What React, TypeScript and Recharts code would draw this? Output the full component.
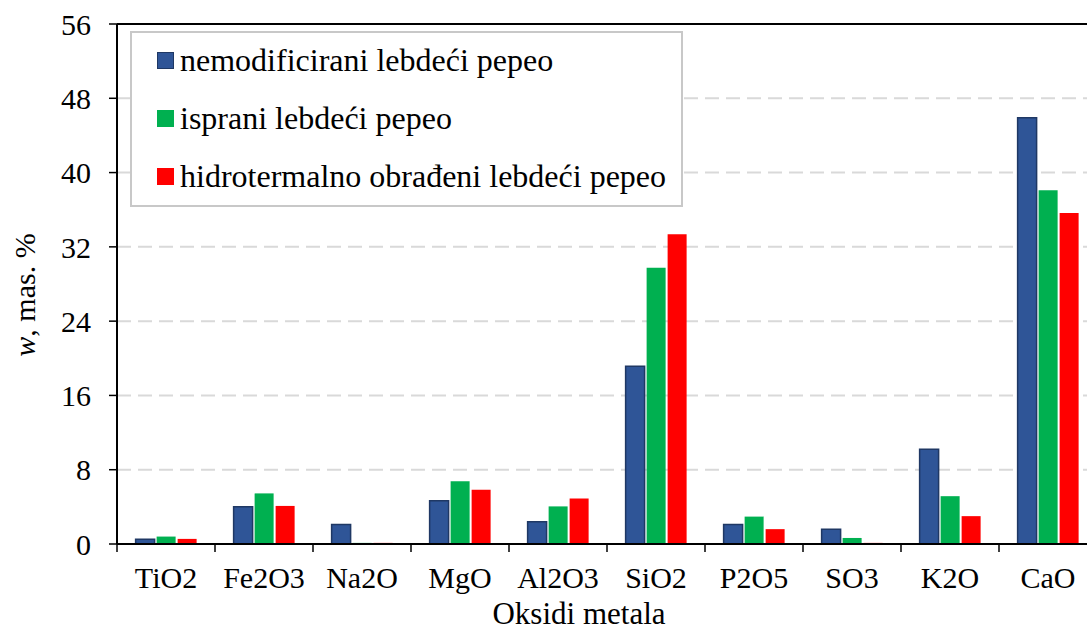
import React from 'react';
import { BarChart, Bar, XAxis, YAxis, CartesianGrid, Legend, ReferenceLine, Label } from 'recharts';

const categories = ['TiO2', 'Fe2O3', 'Na2O', 'MgO', 'Al2O3', 'SiO2', 'P2O5', 'SO3', 'K2O', 'CaO'];
const nemodificirani = [0.5, 4.0, 2.1, 4.65, 2.4, 19.15, 2.1, 1.6, 10.2, 45.9];
const isprani = [0.8, 5.45, 0.12, 6.75, 4.05, 29.75, 2.95, 0.65, 5.15, 38.1];
const hidrotermalno = [0.55, 4.1, 0.12, 5.85, 4.9, 33.35, 1.6, 0.12, 3.0, 35.65];
const yTicks = [0, 8, 16, 24, 32, 40, 48, 56];

const seriesNames = [
  'nemodificirani lebdeći pepeo',
  'isprani lebdeći pepeo',
  'hidrotermalno obrađeni lebdeći pepeo',
];
const seriesColors = ['#2F5597', '#00B050', '#FF0000'];

const data = categories.map((name, i) => ({
  name,
  a: nemodificirani[i],
  b: isprani[i],
  c: hidrotermalno[i],
}));

const FONT = "'Liberation Serif', 'Times New Roman', serif";
const CHART_W = 1097;
const CHART_H = 630;
const Y_W = 117;
const X_H = 86;
const TOP = 24;

const XTick = (props: any) => {
  const { x, y, payload, index } = props;
  const band = (CHART_W - Y_W) / categories.length;
  return (
    <g>
      <line x1={x - band / 2} y1={y} x2={x - band / 2} y2={y + 8} stroke="#000" strokeWidth={1.5} />
      {index === categories.length - 1 && (
        <line x1={x + band / 2} y1={y} x2={x + band / 2} y2={y + 8} stroke="#000" strokeWidth={1.5} />
      )}
      <text x={x} y={y + 44} textAnchor="middle" fill="#000" fontSize={30} fontFamily={FONT}>
        {payload.value}
      </text>
    </g>
  );
};

const LegendContent = (props: any) => {
  const payload: any[] = props.payload || [];
  const ordered = seriesNames.map((n, i) => {
    const found = payload.find((p: any) => p.value === n);
    return { value: n, color: found ? found.color : seriesColors[i] };
  });
  return (
    <div
      style={{
        boxSizing: 'border-box',
        width: 553,
        height: 176,
        border: '2px solid #c8c8c8',
        background: '#fff',
        paddingLeft: 25,
        fontFamily: FONT,
        fontSize: 32,
        color: '#000',
      }}
    >
      <div style={{ position: 'relative', top: -2 }}>
        {ordered.map((entry, i) => (
          <div key={i} style={{ display: 'flex', alignItems: 'center', height: 58.4, whiteSpace: 'nowrap' }}>
            <span
              style={{
                display: 'inline-block',
                boxSizing: 'border-box',
                width: 17,
                height: 17,
                background: entry.color,
                border: i === 0 ? '1.5px solid #1F3864' : 'none',
                marginRight: 6,
                flex: 'none',
              }}
            />
            <span>{entry.value}</span>
          </div>
        ))}
      </div>
    </div>
  );
};

export default function App() {
  return (
    <div style={{ position: 'absolute', left: 0, top: 0, width: 1087, height: 630, overflow: 'hidden', background: '#fff' }}>
      <BarChart
        width={CHART_W}
        height={CHART_H}
        data={data}
        margin={{ top: TOP, right: 0, bottom: 0, left: 0 }}
        barCategoryGap="19%"
        barGap={2}
      >
        <CartesianGrid vertical={false} stroke="#d9d9d9" strokeWidth={2} strokeDasharray="14 7" />
        <XAxis
          dataKey="name"
          height={X_H}
          interval={0}
          tickSize={0}
          tickMargin={0}
          tickLine={false}
          axisLine={{ stroke: '#000', strokeWidth: 2 }}
          tick={<XTick />}
        >
          <Label
            content={() => (
              <text x={579} y={624} textAnchor="middle" fill="#000" fontSize={31} fontFamily={FONT}>
                Oksidi metala
              </text>
            )}
          />
        </XAxis>
        <YAxis
          width={Y_W}
          domain={[0, 56]}
          ticks={yTicks}
          interval={0}
          tickSize={8}
          tickMargin={18}
          axisLine={{ stroke: '#000', strokeWidth: 2 }}
          tickLine={{ stroke: '#000', strokeWidth: 1.5 }}
          tick={{ fill: '#000', fontSize: 30, fontFamily: FONT }}
        >
          <Label
            content={() => (
              <text
                x={35}
                y={295}
                transform="rotate(-90, 35, 295)"
                textAnchor="middle"
                fill="#000"
                fontSize={30}
                fontFamily={FONT}
              >
                <tspan fontStyle="italic">w</tspan>, mas. %
              </text>
            )}
          />
        </YAxis>
        <ReferenceLine y={56} stroke="#000" strokeWidth={2} />
        <Legend
          layout="vertical"
          align="center"
          verticalAlign="middle"
          wrapperStyle={{ position: 'absolute', left: 130, top: 31, width: 553, height: 176 }}
          content={<LegendContent />}
        />
        <Bar dataKey="a" name={seriesNames[0]} fill={seriesColors[0]} stroke="#1F3864" strokeWidth={1.5} isAnimationActive={false} />
        <Bar dataKey="b" name={seriesNames[1]} fill={seriesColors[1]} isAnimationActive={false} />
        <Bar dataKey="c" name={seriesNames[2]} fill={seriesColors[2]} isAnimationActive={false} />
      </BarChart>
    </div>
  );
}
